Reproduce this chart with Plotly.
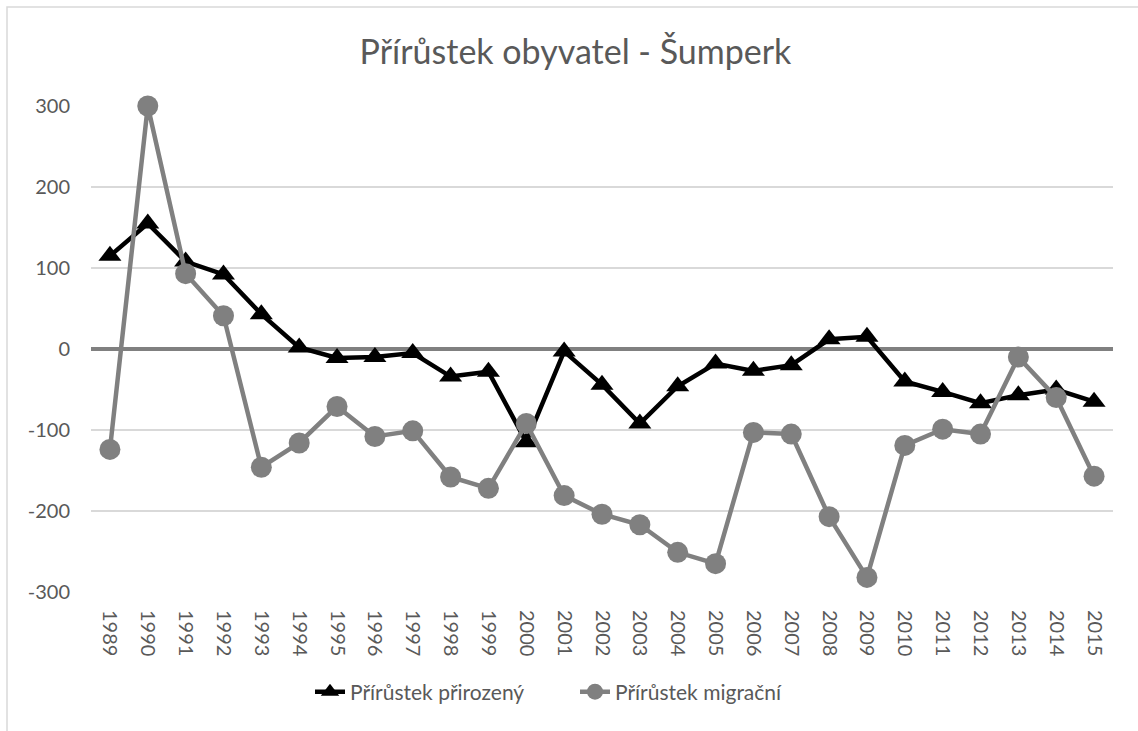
import plotly.graph_objects as go

years = [str(y) for y in range(1989, 2016)]
prirozeny = [115, 155, 108, 92, 43, 2, -11, -10, -5, -34, -28, -115, -3, -44, -92, -46, -18, -27, -20, 12, 15, -40, -53, -67, -57, -50, -65]
migracni = [-124, 300, 93, 41, -146, -116, -71, -108, -101, -158, -172, -92, -181, -204, -217, -251, -265, -103, -105, -207, -282, -119, -99, -105, -10, -60, -157]

title_text = "Přírůstek obyvatel - Šumperk"
name_prirozeny = "Přírůstek přirozený"
name_migracni = "Přírůstek migrační"
y_ticks = [-300, -200, -100, 0, 100, 200, 300]
y_tick_labels = ["-300", "-200", "-100", "0", "100", "200", "300"]

FONT = "Lato, 'Open Sans', sans-serif"
TXT = "#595959"

W, H = 1138, 731
L, R, T, B = 91, 25, 106, 139
PW, PH = W - L - R, H - T - B


def px_x(p):
    return (p - L) / PW


def px_y(p):
    return (H - B - p) / PH


fig = go.Figure()
fig.add_trace(go.Scatter(
    x=years, y=prirozeny, name=name_prirozeny, mode="lines+markers",
    line=dict(color="#000000", width=4.5),
    marker=dict(symbol="triangle-up", size=20, color="#000000"),
    cliponaxis=False,
))
fig.add_trace(go.Scatter(
    x=years, y=migracni, name=name_migracni, mode="lines+markers",
    line=dict(color="#808080", width=4.5),
    marker=dict(symbol="circle", size=21, color="#808080"),
    cliponaxis=False,
))

fig.update_layout(
    width=W, height=H,
    margin=dict(l=L, r=R, t=T, b=B, autoexpand=False),
    paper_bgcolor="white", plot_bgcolor="white",
    font=dict(family=FONT, color=TXT, size=20),
    title=dict(text=title_text, x=px_x(575.5), xanchor="center", xref="paper",
               y=1 - 52 / H, yanchor="middle",
               font=dict(family=FONT, size=34, color=TXT)),
    showlegend=True,
    legend=dict(orientation="h", x=px_x(310), xanchor="left",
                y=px_y(692), yanchor="middle",
                entrywidth=220, entrywidthmode="pixels",
                font=dict(family=FONT, size=21, color=TXT),
                traceorder="normal"),
    xaxis=dict(type="category", range=[-0.5, 26.5], tickangle=90,
               showgrid=False, showline=False, zeroline=False, ticks="",
               automargin=False, ticklabelstandoff=17,
               tickfont=dict(family=FONT, size=20, color=TXT)),
    yaxis=dict(range=[-300, 300], tickvals=y_ticks, ticktext=y_tick_labels,
               showgrid=True, automargin=False,
               gridcolor="#d9d9d9", gridwidth=1.5, zeroline=True,
               zerolinecolor="#808080", zerolinewidth=4, showline=False,
               ticks="", ticklabelstandoff=20,
               tickfont=dict(family=FONT, size=20, color=TXT)),
    shapes=[dict(type="rect", xref="paper", yref="paper",
                 x0=px_x(7), x1=px_x(1160), y0=px_y(760), y1=px_y(7),
                 line=dict(color="#d9d9d9", width=1.5), fillcolor="rgba(0,0,0,0)",
                 layer="below")],
)

fig.write_html("out.html", config={"displayModeBar": False},
               post_script="document.body.style.margin='0';")
